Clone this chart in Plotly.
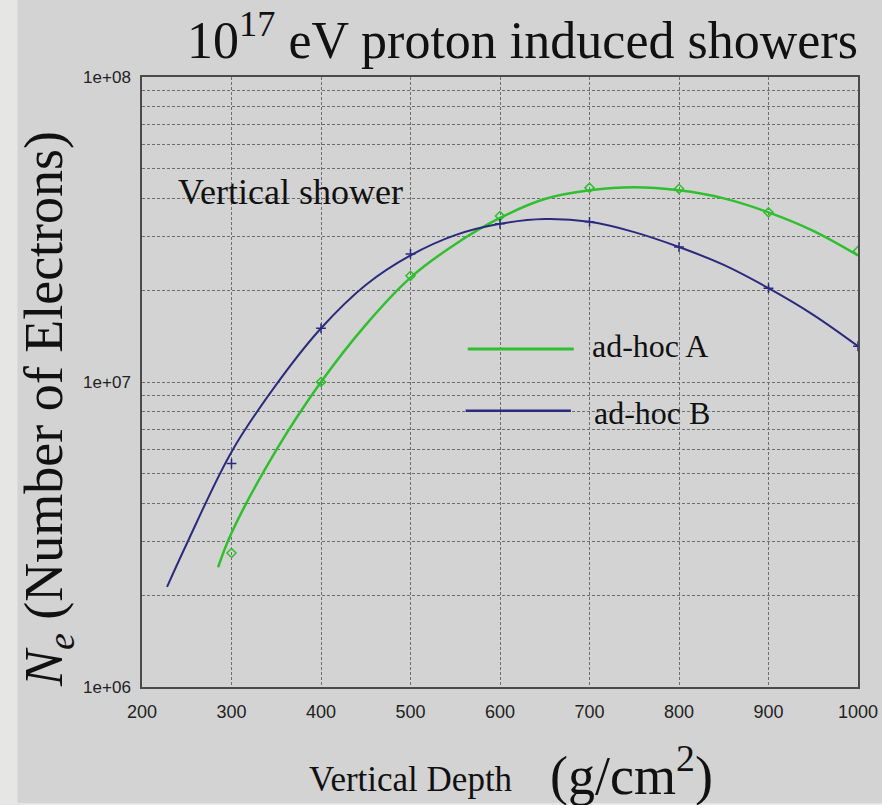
import plotly.graph_objects as go

# ---- data ----
curve_depth_a = [285, 300, 350, 400, 450, 500, 550, 600, 650, 700, 750, 800, 850, 900, 950, 1000]
curve_ne_a = [2.47e6, 3.2e6, 5.98e6, 1.0e7, 1.54e7, 2.2e7, 2.83e7, 3.45e7, 3.98e7, 4.25e7, 4.35e7, 4.25e7, 4.0e7, 3.6e7, 3.13e7, 2.6e7]

curve_depth_b = [228, 250, 300, 350, 400, 450, 500, 550, 600, 650, 700, 750, 800, 850, 900, 950, 1000]
curve_ne_b = [2.13e6, 2.95e6, 5.9e6, 9.8e6, 1.5e7, 2.08e7, 2.6e7, 3.03e7, 3.3e7, 3.42e7, 3.35e7, 3.1e7, 2.77e7, 2.42e7, 2.03e7, 1.66e7, 1.31e7]

point_depth = [300, 400, 500, 600, 700, 800, 900, 1000]
points_ne_a = [2.75e6, 1.0e7, 2.23e7, 3.5e7, 4.33e7, 4.3e7, 3.6e7, 2.69e7]
points_ne_b = [5.4e6, 1.5e7, 2.63e7, 3.3e7, 3.35e7, 2.77e7, 2.03e7, 1.31e7]

x_ticks = [200, 300, 400, 500, 600, 700, 800, 900, 1000]
y_ticks = [1e6, 1e7, 1e8]
y_tick_labels = ["1e+06", "1e+07", "1e+08"]
y_minor = [k * 10**e for e in (6, 7) for k in range(2, 10)]

series_names = ["ad-hoc A", "ad-hoc B"]

GREEN = "#2fbf2f"
BLUE = "#2b2b7e"
BG = "#d3d3d3"
GRID = "#6e6e6e"
AXIS = "#4a4a4a"
SERIF = "Liberation Serif, Times New Roman, serif"
SANS = "Liberation Sans Narrow, Liberation Sans, Arial, sans-serif"

fig = go.Figure()
fig.add_trace(go.Scatter(x=curve_depth_a, y=curve_ne_a, mode="lines", name=series_names[0],
                         line=dict(color=GREEN, width=2.5, shape="spline"), showlegend=False))
fig.add_trace(go.Scatter(x=curve_depth_b, y=curve_ne_b, mode="lines", name=series_names[1],
                         line=dict(color=BLUE, width=2, shape="spline"), showlegend=False))
fig.add_trace(go.Scatter(x=point_depth, y=points_ne_a, mode="markers", showlegend=False,
                         marker=dict(symbol="diamond-open", size=7, color=GREEN, line=dict(width=1.5))))
fig.add_trace(go.Scatter(x=point_depth, y=points_ne_b, mode="markers", showlegend=False,
                         marker=dict(symbol="cross-thin-open", size=7, color=BLUE, line=dict(width=1.5, color=BLUE))))

shapes = [
    dict(type="rect", xref="paper", yref="paper", x0=-0.174, x1=1.04, y0=-0.19, y1=1.13,
         fillcolor=BG, line=dict(width=0), layer="below"),
    dict(type="rect", xref="paper", yref="paper", x0=0.446, x1=0.828, y0=0.403, y1=0.636,
         fillcolor=BG, line=dict(width=0), layer="between"),
    dict(type="line", xref="paper", yref="paper", x0=0.455, x1=0.603, y0=0.554, y1=0.554,
         line=dict(color=GREEN, width=3)),
    dict(type="line", xref="paper", yref="paper", x0=0.452, x1=0.599, y0=0.453, y1=0.453,
         line=dict(color=BLUE, width=2.5)),
]

annotations = [
    dict(text="10<sup>17</sup> eV proton induced showers", xref="paper", yref="paper",
         x=0.531, y=1.066, xanchor="center", yanchor="middle", showarrow=False,
         font=dict(family=SERIF, size=52, color="#111")),
    dict(text="<i>N<sub>e</sub></i> (Number of Electrons)", xref="paper", yref="paper",
         x=-0.131, y=0.456, xanchor="center", yanchor="middle", showarrow=False, textangle=-90,
         font=dict(family=SERIF, size=54, color="#111")),
    dict(text="Vertical Depth", xref="paper", yref="paper",
         x=0.376, y=-0.152, xanchor="center", yanchor="middle", showarrow=False,
         font=dict(family=SERIF, size=35, color="#111")),
    dict(text="(g/cm<sup>2</sup>)", xref="paper", yref="paper",
         x=0.683, y=-0.139, xanchor="center", yanchor="middle", showarrow=False,
         font=dict(family=SERIF, size=54, color="#111")),
    dict(text="Vertical shower", xref="paper", yref="paper",
         x=0.048, y=0.811, xanchor="left", yanchor="middle", showarrow=False,
         font=dict(family=SERIF, size=36, color="#111")),
    dict(text=series_names[0], xref="paper", yref="paper",
         x=0.626, y=0.559, xanchor="left", yanchor="middle", showarrow=False,
         font=dict(family=SERIF, size=32, color="#111")),
    dict(text=series_names[1], xref="paper", yref="paper",
         x=0.628, y=0.450, xanchor="left", yanchor="middle", showarrow=False,
         font=dict(family=SERIF, size=32, color="#111")),
]

fig.update_layout(
    width=882, height=805,
    margin=dict(l=142, r=24, t=77, b=118),
    paper_bgcolor="#e6e6e4",
    plot_bgcolor=BG,
    shapes=shapes,
    annotations=annotations,
    showlegend=False,
    xaxis=dict(range=[200, 1000], tickvals=x_ticks, ticks="", ticklabelstandoff=8, automargin=False,
               showgrid=True, gridcolor=GRID, griddash="3px,2px", gridwidth=1,
               showline=True, linecolor=AXIS, linewidth=1.5, mirror=True,
               tickfont=dict(family=SANS, size=18, color="#222"), zeroline=False),
    yaxis=dict(type="log", range=[6, 8], tickvals=y_ticks, ticktext=y_tick_labels, ticks="",
               ticklabelstandoff=6, automargin=False,
               showgrid=True, gridcolor=GRID, griddash="3px,2px", gridwidth=1,
               minor=dict(tickvals=y_minor, showgrid=True, gridcolor=GRID, griddash="3px,2px", gridwidth=1),
               showline=True, linecolor=AXIS, linewidth=1.5, mirror=True,
               tickfont=dict(family=SANS, size=17, color="#222"), zeroline=False),
)

fig.write_html("out.html")
